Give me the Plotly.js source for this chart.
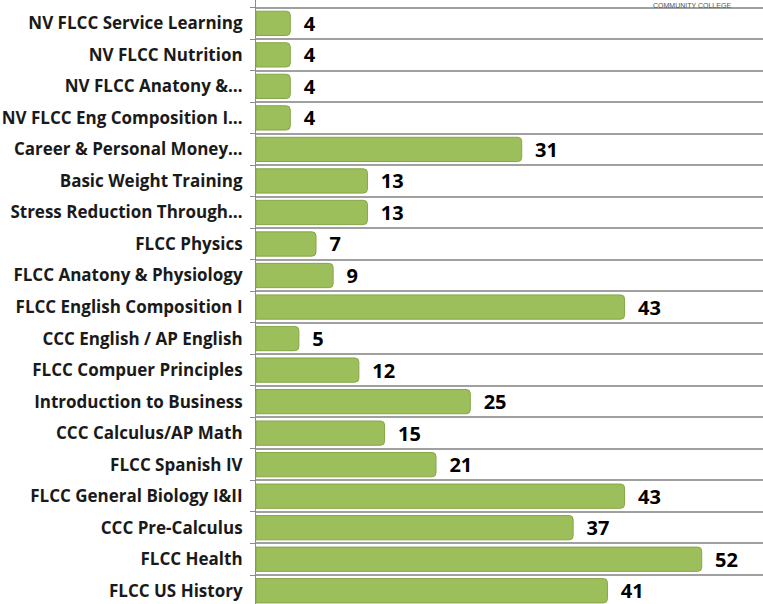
<!DOCTYPE html>
<html>
<head>
<meta charset="utf-8">
<script src="https://cdn.plot.ly/plotly-3.0.1.min.js"></script>
<style>
  html, body { margin: 0; padding: 0; background: #fff; overflow: hidden; }
  #chart { width: 763px; height: 604px; }
</style>
</head>
<body>
<div id="chart"></div>
<script>
// courses, top to bottom as in the picture
const courses = [
    'NV FLCC Service Learning',
    'NV FLCC Nutrition',
    'NV FLCC Anatony &\u2026',
    'NV FLCC Eng Composition I\u2026',
    'Career & Personal Money\u2026',
    'Basic Weight Training',
    'Stress Reduction Through\u2026',
    'FLCC Physics',
    'FLCC Anatony & Physiology',
    'FLCC English Composition I',
    'CCC English / AP English',
    'FLCC Compuer Principles',
    'Introduction to Business',
    'CCC Calculus/AP Math',
    'FLCC Spanish IV',
    'FLCC General Biology I&II',
    'CCC Pre-Calculus',
    'FLCC Health',
    'FLCC US History'
];
const students = [4, 4, 4, 4, 31, 13, 13, 7, 9, 43, 5, 12, 25, 15, 21, 43, 37, 52, 41];

const trace = {
    type: 'bar',
    orientation: 'h',
    x: students,
    y: courses,
    marker: {
        color: '#9dbf5b',
        line: { color: '#84a646', width: 1 },
        cornerradius: 4
    },
    texttemplate: '\u00a0\u00a0%{x}',
    textposition: 'outside',
    constraintext: 'none',
    cliponaxis: false,
    textfont: { family: 'Open Sans, sans-serif', size: 20, weight: 'bold', color: '#000' },
    hoverinfo: 'none'
};

const layout = {
    width: 763,
    height: 604,
    margin: { l: 256, r: 0, t: 0, b: 0 },
    paper_bgcolor: '#fff',
    plot_bgcolor: '#fff',
    bargap: 0.23,
    showlegend: false,
    xaxis: {
        range: [0, 59.15],
        showgrid: false,
        zeroline: false,
        showticklabels: false,
        ticks: ''
    },
    yaxis: {
        type: 'category',
        range: [18.42, -0.74],
        tickson: 'boundaries',
        showgrid: true,
        gridcolor: '#a0a0a0',
        gridwidth: 2,
        showline: true,
        linecolor: '#8c8c8c',
        linewidth: 1,
        ticks: 'outside',
        ticklen: 5,
        tickcolor: '#8c8c8c',
        ticklabelstandoff: 9,
        tickfont: { family: 'Open Sans, sans-serif', size: 17, weight: 'bold', color: '#1a1a1a' }
    },
    annotations: [{
        text: 'COMMUNITY COLLEGE',
        xref: 'paper', yref: 'paper',
        x: 0.86, y: 1,
        xanchor: 'center', yanchor: 'top',
        showarrow: false,
        font: { family: 'Arial, sans-serif', size: 7, color: '#555' }
    }]
};

Plotly.newPlot('chart', [trace], layout, { displayModeBar: false, staticPlot: true });
</script>
</body>
</html>
